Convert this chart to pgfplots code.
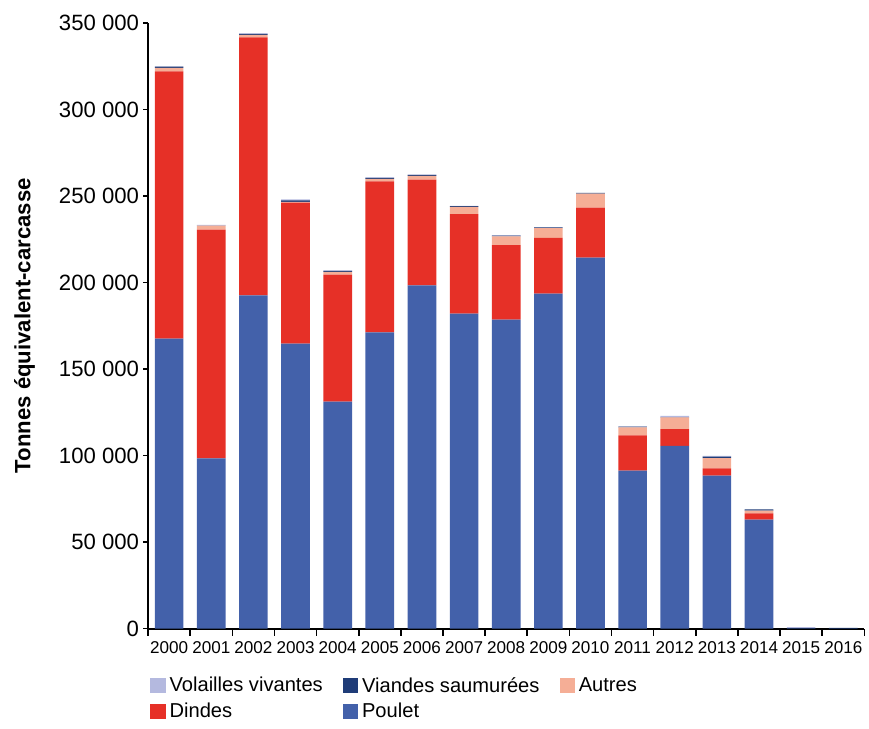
\documentclass[border=0pt]{standalone}
\usepackage{fontspec}
\setmainfont{Liberation Sans}
\usepackage{pgfplots}
\usepackage{pgfplotstable}
\pgfplotsset{compat=1.18}

\definecolor{cVolailles}{HTML}{B4B9DF}
\definecolor{cViandes}{HTML}{1F3C78}
\definecolor{cAutres}{HTML}{F5AE96}
\definecolor{cDindes}{HTML}{E63027}
\definecolor{cPoulet}{HTML}{4361AA}

% tonnes equivalent-carcasse, stacked bottom to top
\pgfplotstableread{
x  poulet dindes autres viandes volailles
0  167600 154400 2000 700 200
1  98300  132300 2200 100 400
2  192500 149100 1500 600 300
3  164700 81500  400  900 500
4  131200 73400  1500 600 300
5  171100 87300  1500 600 300
6  198300 61200  2100 600 200
7  182000 57500  4200 400 200
8  178600 43000  5100 400 200
9  193600 32200  5600 400 200
10 214300 28900  8200 400 0
11 91300  20400  4500 500 100
12 105600 9600   6800 200 700
13 88300  4200   6000 800 500
14 63000  3600   1600 600 0
15 0      0      0    300 500
16 0      0      0    400 0
}\data

\begin{document}
\begin{tikzpicture}
\begin{axis}[
    scale only axis,
    width=356pt, height=301pt,
    ybar stacked,
    bar width=0.68,
    xmin=-0.5, xmax=16.5,
    ymin=0, ymax=350000,
    xtick={0,...,16},
    xticklabels={2000,2001,2002,2003,2004,2005,2006,2007,2008,2009,2010,2011,2012,2013,2014,2015,2016},
    major x tick style={draw=none},
    minor xtick={-0.5,0.5,...,16.5},
    minor tick length=3.5pt,
    ytick distance=50000,
    scaled y ticks=false,
    yticklabel style={font=\fontsize{11}{13}\selectfont,
        /pgf/number format/fixed,
        /pgf/number format/1000 sep={\ },
        /pgf/number format/assume math mode=true},
    yticklabel shift=-1.5pt,
    xticklabel style={font=\fontsize{8.5}{10}\selectfont, yshift=-0.5pt},
    axis x line*=bottom,
    axis y line*=left,
    axis line style={line width=1pt, -},
    tick style={black, line width=0.8pt},
    tick align=outside,
    major tick length=2.5pt,
    ylabel={\bfseries Tonnes équivalent-carcasse},
    ylabel style={font=\fontsize{11}{13}\selectfont, yshift=5pt},
    legend columns=3,
    legend style={draw=none, at={(rel axis cs:0,0)}, anchor=north west,
        yshift=-20pt, xshift=-2pt, font=\fontsize{10}{12}\selectfont,
        /tikz/every even column/.append style={column sep=8pt},
        row sep=0pt},
    legend cell align=left,
    legend image code/.code={\fill[#1] (0pt,-3.5pt) rectangle (7.5pt,4pt);},
]
\addplot[fill=cPoulet, draw=none, forget plot] table[x=x, y=poulet] {\data};
\addplot[fill=cDindes, draw=none, forget plot] table[x=x, y=dindes] {\data};
\addplot[fill=cAutres, draw=none, forget plot] table[x=x, y=autres] {\data};
\addplot[fill=cViandes, draw=none, forget plot] table[x=x, y=viandes] {\data};
\addplot[fill=cVolailles, draw=none, forget plot] table[x=x, y=volailles] {\data};
\addlegendimage{fill=cVolailles, draw=none}\addlegendentry{Volailles vivantes}
\addlegendimage{fill=cViandes, draw=none}\addlegendentry{Viandes saumurées}
\addlegendimage{fill=cAutres, draw=none}\addlegendentry{Autres}
\addlegendimage{fill=cDindes, draw=none}\addlegendentry{Dindes}
\addlegendimage{fill=cPoulet, draw=none}\addlegendentry{Poulet}
\end{axis}
% white margins above and left of the plot, as in the reference
\path (current axis.north west) ++(0,11.4pt);
\path (current axis.west) ++(-73.6pt,0);
\end{tikzpicture}
\end{document}
